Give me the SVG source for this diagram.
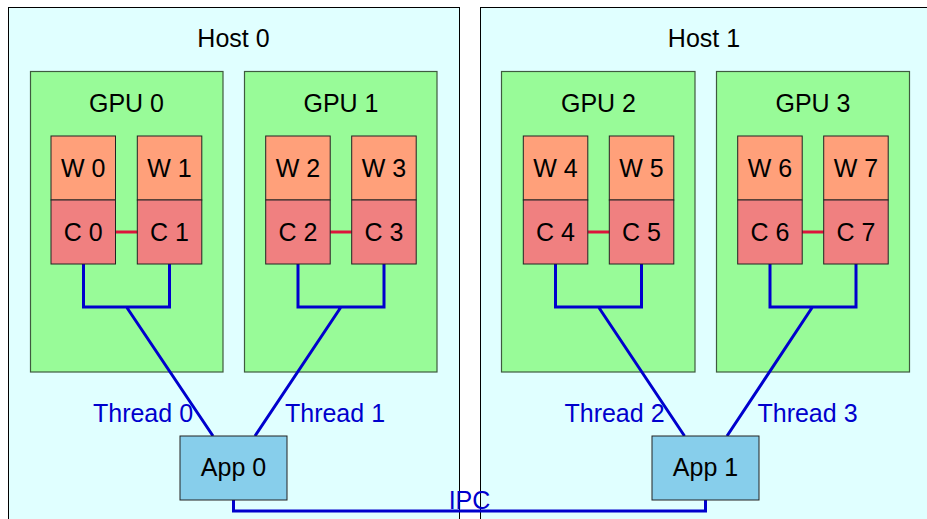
<svg xmlns="http://www.w3.org/2000/svg" width="927" height="519" viewBox="0 0 927 519">
<style>
text{font-family:"Liberation Sans",Arial,sans-serif;font-size:25px;text-anchor:middle;fill:#000}
.host{fill:#E0FFFF;stroke:#000;stroke-width:1}
.gpu{fill:#98FB98;stroke:#3f5a3f;stroke-width:1.2}
.w{fill:#FFA07A;stroke:#222;stroke-width:1}
.c{fill:#F08080;stroke:#222;stroke-width:1}
.app{fill:#87CEEB;stroke:#222;stroke-width:1}
.blue{fill:none;stroke:#0000CD;stroke-width:3}
.red{fill:none;stroke:#DC143C;stroke-width:3}
.lbl{fill:#0000CD}
</style>
<g id="host0"><rect class="host" x="8.5" y="7.5" width="451" height="530"/><text x="233.5" y="47">Host 0</text></g>
<g id="host1"><rect class="host" x="480.5" y="7.5" width="448" height="530"/><text x="704" y="47">Host 1</text></g>
<g id="gpu0"><rect class="gpu" x="30.5" y="71.5" width="192.5" height="300.5"/><text x="126.5" y="111.5">GPU 0</text></g>
<g id="gpu1"><rect class="gpu" x="244.5" y="71.5" width="192.5" height="300.5"/><text x="341" y="111.5">GPU 1</text></g>
<g id="gpu2"><rect class="gpu" x="501.5" y="71.5" width="193.5" height="300.5"/><text x="598.5" y="111.5">GPU 2</text></g>
<g id="gpu3"><rect class="gpu" x="716.5" y="71.5" width="193" height="300.5"/><text x="813" y="111.5">GPU 3</text></g>
<g id="connectors">
<line class="red" x1="115.5" y1="232" x2="137.5" y2="232"/>
<line class="red" x1="330" y1="232" x2="352" y2="232"/>
<line class="red" x1="587.5" y1="232" x2="609.5" y2="232"/>
<line class="red" x1="802" y1="232" x2="824" y2="232"/>
<path class="blue" d="M83.5,264V307H169.5V264M126.5,307L213,436"/>
<path class="blue" d="M298,264V307H384V264M341,307L255,436"/>
<path class="blue" d="M555.5,264V307H641.5V264M598.5,307L684.5,436"/>
<path class="blue" d="M770,264V307H856V264M812.5,307L727,436"/>
<path class="blue" d="M233.5,500V511H705.5V500"/>
</g>
<g id="w0"><rect class="w" x="51" y="136" width="64.5" height="64"/><text x="83.3" y="176.5">W 0</text></g>
<g id="w1"><rect class="w" x="137.3" y="136" width="64.5" height="64"/><text x="169.5" y="176.5">W 1</text></g>
<g id="w2"><rect class="w" x="265.7" y="136" width="64.5" height="64"/><text x="298" y="176.5">W 2</text></g>
<g id="w3"><rect class="w" x="351.7" y="136" width="64.5" height="64"/><text x="384" y="176.5">W 3</text></g>
<g id="w4"><rect class="w" x="523.3" y="136" width="64.5" height="64"/><text x="555.5" y="176.5">W 4</text></g>
<g id="w5"><rect class="w" x="609.3" y="136" width="64.5" height="64"/><text x="641.5" y="176.5">W 5</text></g>
<g id="w6"><rect class="w" x="737.7" y="136" width="64.5" height="64"/><text x="770" y="176.5">W 6</text></g>
<g id="w7"><rect class="w" x="823.7" y="136" width="64.5" height="64"/><text x="856" y="176.5">W 7</text></g>
<g id="c0"><rect class="c" x="51" y="200" width="64.5" height="64"/><text x="83.3" y="240.5">C 0</text></g>
<g id="c1"><rect class="c" x="137.3" y="200" width="64.5" height="64"/><text x="169.5" y="240.5">C 1</text></g>
<g id="c2"><rect class="c" x="265.7" y="200" width="64.5" height="64"/><text x="298" y="240.5">C 2</text></g>
<g id="c3"><rect class="c" x="351.7" y="200" width="64.5" height="64"/><text x="384" y="240.5">C 3</text></g>
<g id="c4"><rect class="c" x="523.3" y="200" width="64.5" height="64"/><text x="555.5" y="240.5">C 4</text></g>
<g id="c5"><rect class="c" x="609.3" y="200" width="64.5" height="64"/><text x="641.5" y="240.5">C 5</text></g>
<g id="c6"><rect class="c" x="737.7" y="200" width="64.5" height="64"/><text x="770" y="240.5">C 6</text></g>
<g id="c7"><rect class="c" x="823.7" y="200" width="64.5" height="64"/><text x="856" y="240.5">C 7</text></g>
<g id="app0"><rect class="app" x="180" y="436" width="107" height="64"/><text x="233.5" y="476">App 0</text></g>
<g id="app1"><rect class="app" x="652" y="436" width="107" height="64"/><text x="705.5" y="476">App 1</text></g>
<g id="labels">
<text class="lbl" x="143" y="422">Thread 0</text>
<text class="lbl" x="335" y="422">Thread 1</text>
<text class="lbl" x="614.5" y="422">Thread 2</text>
<text class="lbl" x="807.5" y="422">Thread 3</text>
<text class="lbl" x="469.5" y="509">IPC</text>
</g>
</svg>
